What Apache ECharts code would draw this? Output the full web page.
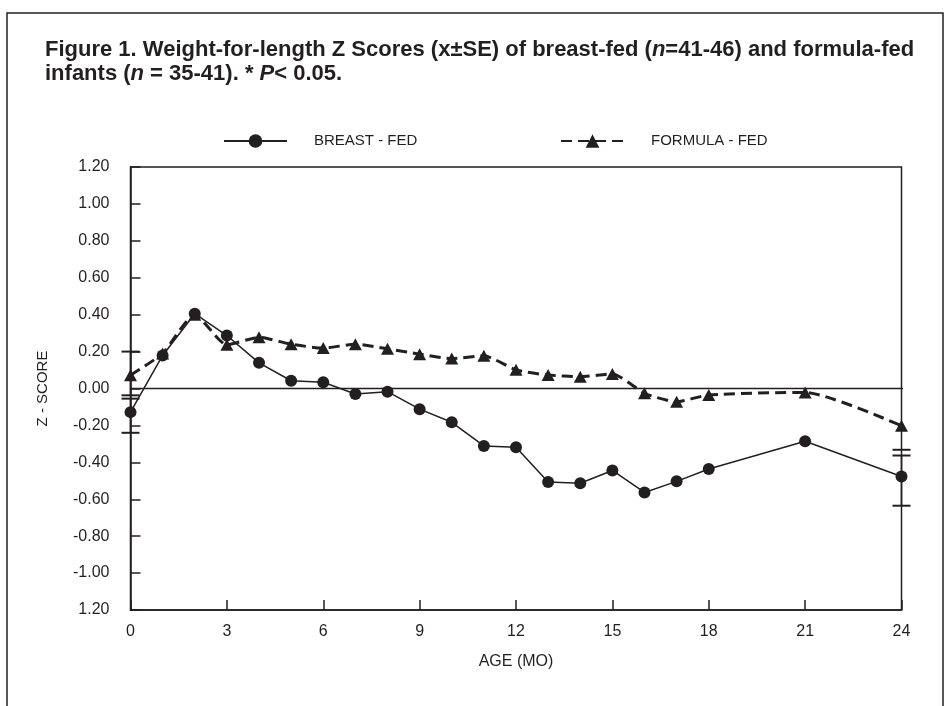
<!DOCTYPE html>
<html>
<head>
<meta charset="utf-8">
<script src="https://cdn.jsdelivr.net/npm/echarts@6/dist/echarts.min.js"></script>
<style>
html,body{margin:0;padding:0;background:#fff;}
#chart{width:946px;height:706px;}
</style>
</head>
<body>
<div id="chart"></div>
<script>
// ---- data ----
const months = [0,1,2,3,4,5,6,7,8,9,10,11,12,13,14,15,16,17,18,21,24];
const breastFed = [-0.128,0.179,0.405,0.287,0.139,0.042,0.034,-0.030,-0.017,-0.112,-0.183,-0.311,-0.318,-0.507,-0.513,-0.444,-0.563,-0.503,-0.436,-0.286,-0.477];
const formulaFed = [0.072,0.19,0.40,0.237,0.277,0.240,0.219,0.240,0.215,0.186,0.162,0.177,0.101,0.073,0.064,0.079,-0.026,-0.072,-0.035,-0.021,-0.202];
// SE bar ends (only shown at the first and last ages)
const errMonths = [0, 24];
const breastErrLow = [-0.24, -0.635];
const breastErrHigh = [-0.055, -0.363];
const formulaErrLow = [-0.037, -0.332];
const formulaErrHigh = [0.20, null];
// axis ticks
const yTickLabels = ['1.20','-1.00','-0.80','-0.60','-0.40','-0.20','0.00','0.20','0.40','0.60','0.80','1.00','1.20'];
const yMin = -1.2, yMax = 1.2, yStep = 0.2;
const xMin = 0, xMax = 24, xStep = 3;
const zeroLineEnd = [0, 24.27];
const seriesNames = ['BREAST - FED', 'FORMULA - FED'];

const INK = '#231f20';
const FONT = '"Liberation Sans", Arial, sans-serif';

const pairs = (xs, ys) => xs.map((x, i) => [x, ys[i]]);
const errRows = (lo, hi) => errMonths.map((m, i) => [m, lo[i] == null ? NaN : lo[i], hi[i] == null ? NaN : hi[i]]);

function renderErr(params, api) {
  const x = api.value(0), lo = api.value(1), hi = api.value(2);
  const children = [];
  const half = 9;
  const style = {stroke: INK, lineWidth: 2};
  let pLo = null, pHi = null;
  if (!isNaN(lo)) {
    pLo = api.coord([x, lo]);
    children.push({type: 'line', shape: {x1: pLo[0]-half, y1: pLo[1], x2: pLo[0]+half, y2: pLo[1]}, style});
  }
  if (!isNaN(hi)) {
    pHi = api.coord([x, hi]);
    children.push({type: 'line', shape: {x1: pHi[0]-half, y1: pHi[1], x2: pHi[0]+half, y2: pHi[1]}, style});
  }
  if (pLo && pHi) {
    children.push({type: 'line', shape: {x1: pLo[0], y1: pLo[1], x2: pHi[0], y2: pHi[1]}, style: {stroke: INK, lineWidth: 1.5}});
  }
  return {type: 'group', children};
}

const chart = echarts.init(document.getElementById('chart'), null, {renderer: 'canvas'});
chart.setOption({
  animation: false,
  backgroundColor: '#fff',
  textStyle: {fontFamily: FONT, color: INK},
  title: {
    left: 40, top: 33,
    text: '{b|Figure 1. Weight-for-length Z Scores (x\u00B1SE) of breast-fed (}{i|n}{b|=41-46) and formula-fed}\n{b|infants (}{i|n}{b| = 35-41). * }{i|P}{b|< 0.05.}',
    textStyle: {
      fontFamily: FONT, fontSize: 22, fontWeight: 'bold', color: INK, lineHeight: 24,
      rich: {
        b: {fontFamily: FONT, fontSize: 22, fontWeight: 'bold', color: INK, lineHeight: 24},
        i: {fontFamily: FONT, fontSize: 22, fontWeight: 'bold', fontStyle: 'italic', color: INK, lineHeight: 24}
      }
    }
  },
  graphic: [{
    type: 'polyline', silent: true,
    shape: {points: [[7, 720], [7, 13], [943, 13], [943, 720]]},
    style: {stroke: INK, lineWidth: 1.5, fill: null}
  }],
  legend: [{
    data: [seriesNames[0]], left: 218, top: 128.5, itemWidth: 63, itemHeight: 17,
    textStyle: {fontFamily: FONT, fontSize: 15, color: INK, padding: [0, 0, 0, 22]}
  }, {
    data: [seriesNames[1]], left: 555, top: 128.5, itemWidth: 63, itemHeight: 17,
    textStyle: {fontFamily: FONT, fontSize: 15, color: INK, padding: [0, 0, 0, 22]}
  }],
  grid: {
    left: 130.5, top: 167, width: 771, height: 443,
    show: true, borderColor: INK, borderWidth: 1.5, backgroundColor: 'transparent'
  },
  xAxis: {
    type: 'value', min: xMin, max: xMax, interval: xStep,
    name: 'AGE (MO)', nameLocation: 'middle', nameGap: 44,
    nameTextStyle: {fontFamily: FONT, fontSize: 16, color: INK},
    axisLine: {onZero: false, lineStyle: {color: INK, width: 1.5}},
    axisTick: {inside: true, length: 10, lineStyle: {color: INK, width: 1.5}},
    axisLabel: {fontFamily: FONT, fontSize: 16, color: INK, margin: 14},
    splitLine: {show: false}
  },
  yAxis: {
    type: 'value', min: yMin, max: yMax, interval: yStep,
    name: 'Z - SCORE', nameLocation: 'middle', nameGap: 80, nameRotate: 90,
    nameTextStyle: {fontFamily: FONT, fontSize: 15, color: INK},
    axisLine: {onZero: false, lineStyle: {color: INK, width: 1.5}},
    axisTick: {inside: true, length: 10, lineStyle: {color: INK, width: 1.5}},
    axisLabel: {
      fontFamily: FONT, fontSize: 16, color: INK, margin: 21,
      formatter: v => yTickLabels[Math.round((v - yMin) / yStep)]
    },
    splitLine: {show: false}
  },
  series: [
    {
      name: 'zero', type: 'line', data: zeroLineEnd.map(x => [x, 0]),
      symbol: 'none', clip: false, silent: true, z: 1,
      lineStyle: {color: INK, width: 1.5}
    },
    {
      name: seriesNames[1], type: 'line', data: pairs(months, formulaFed),
      smooth: 0.2, symbol: 'triangle', symbolSize: [13, 12], z: 3,
      itemStyle: {color: INK},
      lineStyle: {color: INK, width: 3, type: [11, 6]}
    },
    {
      name: seriesNames[0], type: 'line', data: pairs(months, breastFed),
      symbol: 'circle', symbolSize: 12, z: 4,
      itemStyle: {color: INK},
      lineStyle: {color: INK, width: 1.5}
    },
    {
      name: 'breastSE', type: 'custom', renderItem: renderErr, clip: false, silent: true, z: 5,
      encode: {x: 0, y: [1, 2]}, data: errRows(breastErrLow, breastErrHigh)
    },
    {
      name: 'formulaSE', type: 'custom', renderItem: renderErr, clip: false, silent: true, z: 5,
      encode: {x: 0, y: [1, 2]}, data: errRows(formulaErrLow, formulaErrHigh)
    }
  ]
});
</script>
</body>
</html>
